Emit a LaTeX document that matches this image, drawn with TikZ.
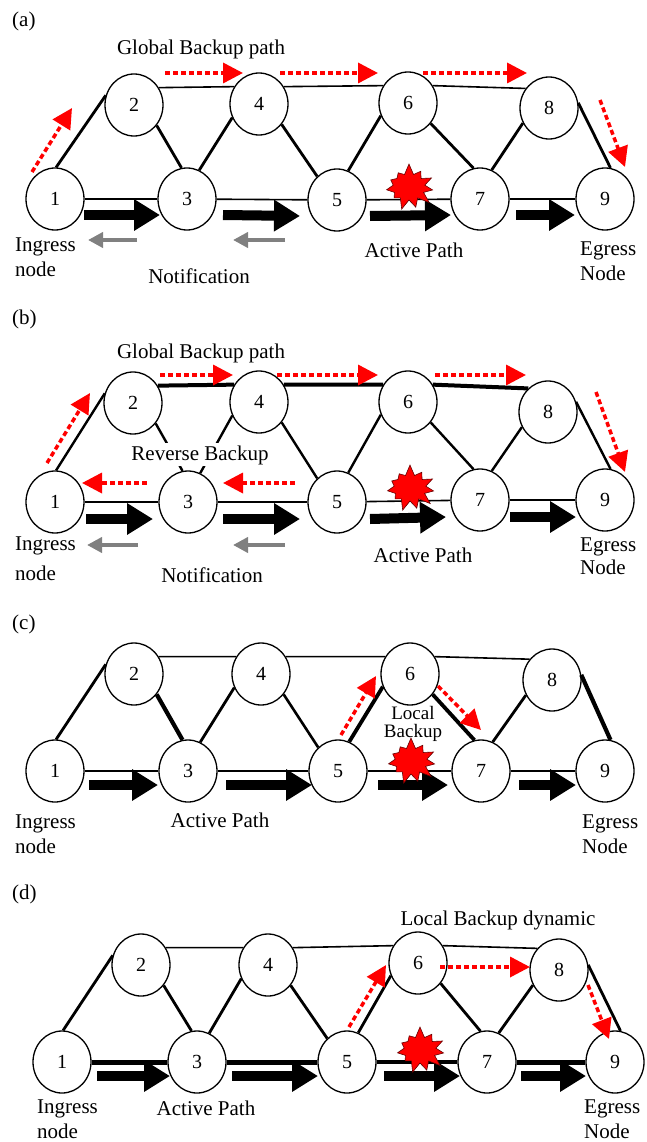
\documentclass[tikz,border=0pt]{standalone}
\usepackage{fontspec}
\setmainfont{Liberation Serif}
\usetikzlibrary{arrows.meta}
\usetikzlibrary{shapes.geometric}
\usetikzlibrary{shapes.symbols}

\begin{document}
\begin{tikzpicture}[x=1pt,y=-1pt,
  nd/.style={draw,ellipse,line width=1.3pt,fill=white,inner sep=0pt,minimum width=58pt,minimum height=62pt,font=\fontsize{20}{20}\selectfont},
  flat/.style={line width=1.6pt},
  heavy/.style={line width=4pt},
  actv/.style={line width=10pt,-{Triangle[length=26pt,width=30pt]}},
  note/.style={gray,line width=4pt,-{Triangle[length=15pt,width=15pt]}},
  bkup/.style={red,line width=3.5pt,dash pattern=on 5pt off 3pt,-{Triangle[length=20pt,width=20pt]}},
  boom/.style={starburst,starburst points=11,starburst point height=11pt,random starburst=7,fill=red,draw=red!40!black,line width=0.6pt,inner sep=0pt,minimum width=54pt,minimum height=48pt},
  lbl/.style={font=\fontsize{21}{25}\selectfont,inner sep=0pt}]

\useasboundingbox (0,0) rectangle (646,1142);

\foreach \n/\x/\y in {1/55/199,2/134/105,3/187/199,4/259/104,5/337/200,6/408/103,7/480/199,8/549/108,9/605/199}
  \node[nd] (a\n) at (\x,\y) {\n};
\foreach \u/\p/\v/\q/\w in {1/88/2/161/2.8,2/318/3/100/2.8,3/67/4/207/2.8,4/318/5/130/2.8,5/69/6/205/2.8,6/318/7/102/2.8,7/68/8/210/2.8,8/10/9/80/2.8}
  \draw[line width=\w pt] (a\u.\p) -- (a\v.\q);
\foreach \u/\v in {1/3,3/5,5/7,7/9}
  \draw[flat] (a\u) -- (a\v);
\draw[flat] (a2.35) -- (a4.145) (a4.35) -- (a6.145) (a6.35) -- (a8.140);
\foreach \u/\v/\p/\q in {1/3/29/-27,3/5/36/-37,5/7/33/-29,7/9/36/-30}
  \draw[actv] ([shift={(\p,16)}]a\u.center) -- ([shift={(\q,16)}]a\v.center);
\draw[note] ([shift={(-50,41)}]a3.center) -- ([shift={(33,41)}]a1.center);
\draw[note] ([shift={(-52,40)}]a5.center) -- ([shift={(46,41)}]a3.center);
\draw[bkup] ([shift={(-23,-27)}]a1.center) -- ([shift={(-62,3)}]a2.center);
\draw[bkup] ([shift={(31,-32)}]a2.center) -- ([shift={(-16,-31)}]a4.center);
\draw[bkup] ([shift={(21,-31)}]a4.center) -- ([shift={(-30,-30)}]a6.center);
\draw[bkup] ([shift={(15,-30)}]a6.center) -- ([shift={(-22,-35)}]a8.center);
\draw[bkup] ([shift={(51,-8)}]a8.center) -- ([shift={(20,-32)}]a9.center);
\node[boom] (xa) at (409,187) {};
\node[lbl,anchor=base west] (ta) at (12,27) {(a)};
\node[lbl,anchor=base] (gba) at (201,55) {Global Backup path};
\node[lbl,anchor=north west,align=left] (ina) at (15,238) {Ingress\\node};
\node[lbl,anchor=base] (nta) at (199,283) {Notification};
\node[lbl,anchor=base] (apa) at (414,257) {Active Path};
\node[lbl,anchor=north west,align=left] (ega) at (580,242) {Egress\\Node};

\foreach \n/\x/\y in {1/55/502,2/133/403,3/188/502,4/259/402,5/337/502,6/408/402,7/480/500,8/548/412,9/605/500}
  \node[nd] (b\n) at (\x,\y) {\n};
\foreach \u/\p/\v/\q/\w in {1/88/2/161/2.4,2/318/3/100/2.4,3/67/4/207/2.4,4/318/5/130/2.4,5/69/6/205/2.4,6/318/7/102/2.4,7/68/8/210/2.4,8/20/9/80/2.4}
  \draw[line width=\w pt] (b\u.\p) -- (b\v.\q);
\foreach \u/\v in {1/3,3/5,5/7,7/9}
  \draw[flat] (b\u) -- (b\v);
\draw[heavy] (b2.35) -- (b4.145) (b4.35) -- (b6.145) (b6.35) -- (b8.130);
\foreach \u/\v/\p/\q in {1/3/31/-35,3/5/35/-37,5/7/33/-34,7/9/30/-29}
  \draw[actv] ([shift={(\p,17)}]b\u.center) -- ([shift={(\q,17)}]b\v.center);
\draw[note] ([shift={(-50,43)}]b3.center) -- ([shift={(32,43)}]b1.center);
\draw[note] ([shift={(-52,43)}]b5.center) -- ([shift={(45,43)}]b3.center);
\draw[bkup] ([shift={(-8,-39)}]b1.center) -- ([shift={(-43,-10)}]b2.center);
\draw[bkup] ([shift={(27,-28)}]b2.center) -- ([shift={(-26,-27)}]b4.center);
\draw[bkup] ([shift={(18,-27)}]b4.center) -- ([shift={(-30,-27)}]b6.center);
\draw[bkup] ([shift={(27,-27)}]b6.center) -- ([shift={(-22,-37)}]b8.center);
\draw[bkup] ([shift={(48,-20)}]b8.center) -- ([shift={(20,-28)}]b9.center);
\draw[bkup] ([shift={(-41,-19)}]b3.center) -- ([shift={(27,-19)}]b1.center);
\draw[bkup] ([shift={(-42,-19)}]b5.center) -- ([shift={(35,-19)}]b3.center);
\node[boom] (xb) at (410,488) {};
\node[lbl,anchor=base west] (tb) at (12,324) {(b)};
\node[lbl,anchor=base] (gbb) at (201,358) {Global Backup path};
\node[lbl,anchor=base,fill=white,inner sep=2pt] (rbb) at (200,460) {Reverse Backup};
\node[lbl,anchor=north west,align=left] (inb) at (15,537) {Ingress\\[5pt]node};
\node[lbl,anchor=base] (ntb) at (212,582) {Notification};
\node[lbl,anchor=base] (apb) at (423,562) {Active Path};
\node[lbl,anchor=north west,align=left] (egb) at (580,538) {Egress\\[-2pt]Node};

\foreach \n/\x/\y in {1/55/771,2/134/674,3/188/771,4/261/674,5/338/771,6/410/674,7/481/771,8/552/680,9/605/771}
  \node[nd] (c\n) at (\x,\y) {\n};
\foreach \u/\p/\v/\q/\w in {1/88/2/161/2.8,2/318/3/100/4.2,3/67/4/207/2.8,4/318/5/130/2.6,5/69/6/205/3.8,6/318/7/102/3.8,7/68/8/210/2.8,8/10/9/80/4.2}
  \draw[line width=\w pt] (c\u.\p) -- (c\v.\q);
\foreach \u/\v in {1/3,3/5,5/7,7/9}
  \draw[flat] (c\u) -- (c\v);
\draw[flat] (c2.35) -- (c4.145) (c4.35) -- (c6.145) (c6.35) -- (c8.137);
\foreach \u/\v/\p/\q in {1/3/34/-30,3/5/38/-26,5/7/40/-33,7/9/38/-29}
  \draw[actv] ([shift={(\p,14)}]c\u.center) -- ([shift={(\q,14)}]c\v.center);
\draw[bkup] ([shift={(3,-36)}]c5.center) -- ([shift={(-34,2)}]c6.center);
\draw[bkup] ([shift={(28,12)}]c6.center) -- ([shift={(0,-41)}]c7.center);
\node[boom] (xc) at (411,761) {};
\node[lbl,anchor=base west] (tc) at (12,629) {(c)};
\node[lbl,anchor=north,align=center,font=\fontsize{19}{18}\selectfont] (lbc) at (413,706) {Local\\Backup};
\node[lbl,anchor=north west,align=left] (inc) at (15,815) {Ingress\\node};
\node[lbl,anchor=base] (apc) at (220,827) {Active Path};
\node[lbl,anchor=north west,align=left] (egc) at (582,815) {Egress\\Node};

\foreach \n/\x/\y in {1/62/1062,2/141/965,3/197/1062,4/268/965,5/347/1062,6/418/963,7/487/1062,8/559/970,9/615/1062}
  \node[nd] (d\n) at (\x,\y) {\n};
\foreach \u/\p/\v/\q/\w in {1/88/2/161/2.8,2/318/3/100/2.8,3/67/4/207/2.8,4/318/5/130/2.8,5/69/6/205/2.8,6/318/7/102/2.8,7/68/8/210/2.8,8/10/9/80/2.8}
  \draw[line width=\w pt] (d\u.\p) -- (d\v.\q);
\foreach \u/\v/\w in {1/3/5,3/5/5,5/7/3.4,7/9/5}
  \draw[line width=\w pt] (d\u) -- (d\v);
\draw[flat] (d2.35) -- (d4.145) (d4.35) -- (d6.145) (d6.35) -- (d8.135);
\foreach \u/\v/\p/\q in {1/3/35/-27,3/5/35/-29,5/7/37/-27,7/9/34/-29}
  \draw[actv] ([shift={(\p,14)}]d\u.center) -- ([shift={(\q,14)}]d\v.center);
\draw[bkup] ([shift={(2,-35)}]d5.center) -- ([shift={(-32,2)}]d6.center);
\draw[bkup] ([shift={(22,4)}]d6.center) -- ([shift={(-29,-3)}]d8.center);
\draw[bkup] ([shift={(29,15)}]d8.center) -- ([shift={(-6,-23)}]d9.center);
\node[boom] (xd) at (420,1050) {};
\node[lbl,anchor=base west] (td) at (12,899) {(d)};
\node[lbl,anchor=base] (lbd) at (498,925) {Local Backup dynamic};
\node[lbl,anchor=north west,align=left] (ind) at (37,1100) {Ingress\\node};
\node[lbl,anchor=base] (apd) at (206,1115) {Active Path};
\node[lbl,anchor=north west,align=left] (egd) at (584,1100) {Egress\\Node};

\end{tikzpicture}
\end{document}
